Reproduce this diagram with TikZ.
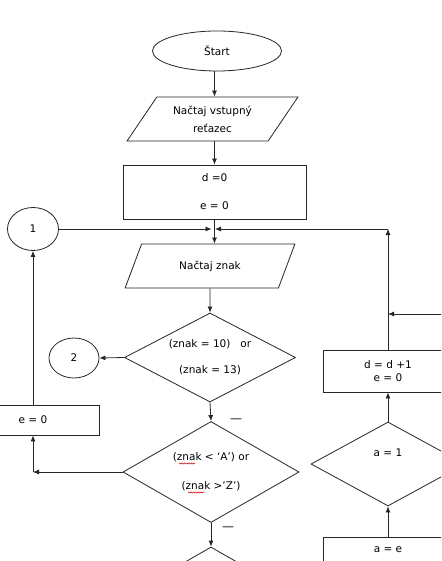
\documentclass[tikz,border=0pt]{standalone}
\usepackage{fontspec}
\setmainfont{DejaVu Sans}
\usetikzlibrary{shapes.geometric,arrows.meta,decorations.pathmorphing}
\begin{document}
\begin{tikzpicture}[x=1pt,y=-1pt,
  every node/.style={font=\fontsize{10.5}{13}\selectfont, align=center},
  line/.style={draw=black!85, line width=0.8pt},
  arr/.style={line, -{Latex[length=6pt,width=5pt]}},
  term/.style={line, ellipse, inner sep=0},
  io/.style={line, trapezium, trapezium stretches=true, inner sep=0, minimum height=44, minimum width=171},
  proc/.style={line, rectangle, inner sep=0},
  dec/.style={line, diamond, inner sep=0},
  nomark/.style={text=black!55, font=\fontsize{12}{13}\selectfont\bfseries},
  squig/.style={draw=red!80!black, line width=0.5pt, decorate, decoration={snake, amplitude=0.6pt, segment length=2.4pt}}
]
\useasboundingbox (0,0) rectangle (441,561);
\clip (0,0) rectangle (441,561);
\fill[white] (0,0) rectangle (441,561);

% nodes
\node[term, minimum width=129, minimum height=40] (start) at (217,51) {Štart};
\node[io, trapezium left angle=51.5, trapezium right angle=128.5] (in1) at (212.5,119) {Načtaj vstupný\\[5pt]reťazec};
\node[proc, minimum width=183, minimum height=54] (init) at (214.5,192) {d =0\\[15pt]e = 0};
\node[term, minimum width=51, minimum height=43] (c1) at (33,229) {1};
\node[io, trapezium left angle=55, trapezium right angle=125] (in2) at (210,266) {Načtaj znak};
\node[dec, aspect=2.3, minimum width=171, minimum height=89] (d1) at (210,357.5) {(znak = 10)\ \ \ or\\[13pt](znak = 13)};
\node[term, minimum width=50, minimum height=40] (c2) at (74,358) {2};
\node[dec, aspect=2.1, minimum width=176, minimum height=101] (d2) at (211,472) {(znak < ‘A’) or\\[16pt](znak >’Z’)};
\node[proc, minimum width=132, minimum height=30] (e0) at (33,420) {e = 0};
\node[dec, aspect=1.74, minimum width=176, minimum height=101] (d3) at (211,597.5) {};
\node[proc, minimum width=130, minimum height=42] (inc) at (388,371) {d = d +1\\e = 0};
\node[dec, aspect=2.2, minimum width=154, minimum height=84] (a1) at (388,464) {a = 1\\[9pt]\mbox{}};
\node[proc, minimum width=130, minimum height=26] (ae) at (388,550) {a = e};

\node[nomark] (m1) at (236,420) {—};
\node[nomark] (m2) at (228,528) {—};

% coordinates
\coordinate (jl) at (211.5,229);
\coordinate (jr) at (215,229);
\coordinate (j2) at (388,229);
\coordinate (rin) at (446,314);
\coordinate (rjoin) at (388,314);
\coordinate (k) at (33,472);

% connectors
\draw[arr] (init |- start.south) -- (init |- in1.north);
\draw[arr] (init |- in1.south) -- (init |- init.north);
\draw[arr] (init.south) -- (init |- in2.north);
\draw[arr] (in2) -- (in2 |- d1.north);
\draw[arr] (d1.south) -- (d2.north);
\draw[arr] (d1.west) -- (c2.east);
\draw[arr] (c1.east) -- (jl);
\draw[arr] (inc.north) -- (j2);
\draw[arr] (j2) -- (jr);
\draw[arr] (rin) -- (rjoin);
\draw[arr] (d2.west) -- (k);
\draw[arr] (k) -- (e0.south);
\draw[arr] (e0.north) -- (c1.south);
\draw[arr] (d2.south) -- (d3.north);
\draw[arr] (a1.north) -- (inc.south);
\draw[arr] (ae.north) -- (a1.south);

% spell-check underlines
\draw[squig] (179,463.5) -- (195,463.5);
\draw[squig] (188,492.5) -- (204,492.5);
\end{tikzpicture}
\end{document}
